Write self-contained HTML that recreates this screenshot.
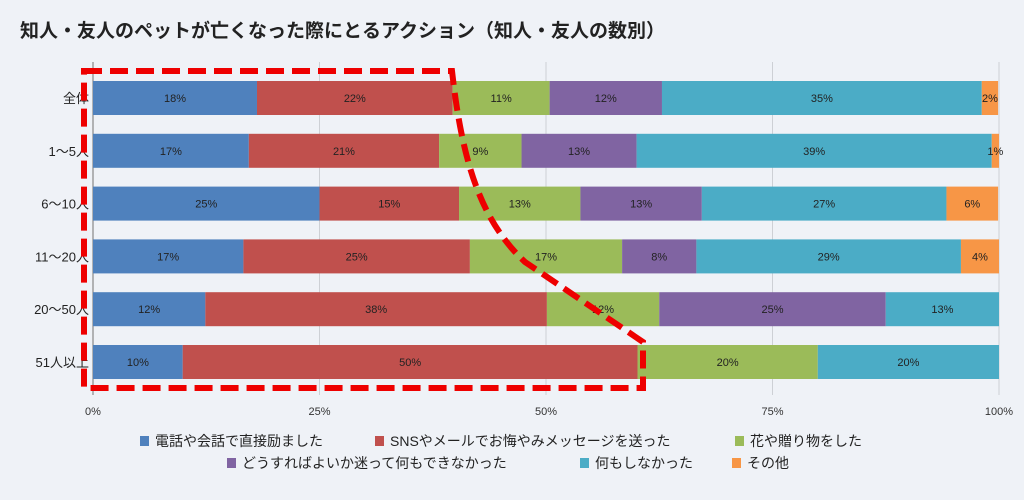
<!DOCTYPE html>
<html><head><meta charset="utf-8">
<style>
html,body{margin:0;padding:0;background:#eff2f7;}
body{width:1024px;height:495px;overflow:hidden;font-family:"Liberation Sans","Noto Sans CJK JP",sans-serif;}
svg text{font-family:"Liberation Sans","Noto Sans CJK JP",sans-serif;}
</style></head>
<body>
<svg id="chart" width="1024" height="495" viewBox="0 0 1024 495" xmlns="http://www.w3.org/2000/svg">
<rect width="1024" height="495" fill="#eff2f7"/>
<text x="20" y="37" font-size="19" font-weight="bold" fill="#222">知人・友人のペットが亡くなった際にとるアクション（知人・友人の数別）</text>
<g id="grid"></g>
<g id="bars"></g>
<g id="ylabels"></g>
<g id="xlabels"></g>
<g id="legend"></g>
<path d="M84,71 L452,71 C462,160 480,220 525,262 L643,342 L643,388 L84,388 Z" fill="none" stroke="#ee0000" stroke-width="6" stroke-dasharray="18,8"/>
</svg>
<script>
const categories = ["全体","1〜5人","6〜10人","11〜20人","20〜50人","51人以上"];
const seriesNames = ["電話や会話で直接励ました","SNSやメールでお悔やみメッセージを送った","花や贈り物をした","どうすればよいか迷って何もできなかった","何もしなかった","その他"];
const phone   = [18.1,17.2,25.0,16.6,12.4,9.9];
const sns     = [21.6,21.0,15.4,25.0,37.7,50.2];
const flowers = [10.7,9.1,13.4,16.8,12.4,19.9];
const unsure  = [12.4,12.7,13.4,8.2,25.0,0];
const nothing = [35.3,39.2,27.0,29.2,12.5,20.0];
const other   = [1.8,0.8,5.7,4.2,0,0];
const xTicks = [0,25,50,75,100];
const xTickLabels = ["0%","25%","50%","75%","100%"];
const colors = ["#4f81bd","#c0504d","#9bbb59","#8064a2","#4bacc6","#f79646"];
const series = [phone,sns,flowers,unsure,nothing,other];

const NS="http://www.w3.org/2000/svg";
const X0=93, X1=999, rowTop=81, rowPitch=52.8, barH=34;
const xScale=v=>X0+(X1-X0)*v/100;
const yScale=i=>rowTop+i*rowPitch;
function mk(tag,attrs,parent){const e=document.createElementNS(NS,tag);for(const k in attrs)e.setAttribute(k,attrs[k]);parent.appendChild(e);return e;}

const grid=document.getElementById('grid');
xTicks.forEach((t,i)=>{
  if(i>0){const l=mk('line',{x1:xScale(t),x2:xScale(t),y1:62,y2:395,stroke:'#cdd0d5','stroke-width':1},grid);
  
  }
  const tx=mk('text',{x:xScale(t),y:415,'font-size':11,'text-anchor':'middle',fill:'#333'},document.getElementById('xlabels'));
  tx.textContent=xTickLabels[i];
  
  
});
const ax=mk('line',{x1:X0,x2:X0,y1:62,y2:395,stroke:'#888','stroke-width':1.2},grid);



const bars=document.getElementById('bars');
categories.forEach((c,i)=>{
  let acc=0;
  const y=yScale(i);
  series.forEach((s,j)=>{
    const v=s[i];
    if(v<=0){return;}
    const x=xScale(acc), w=xScale(acc+v)-x;
    const r=mk('rect',{x:x,y:y,width:w,height:barH,fill:colors[j]},bars);
    
    
    const t=mk('text',{x:x+w/2,y:y+barH/2+4,'font-size':11,'text-anchor':'middle',fill:'#222'},bars);
    t.textContent=Math.round(v)+'%';
    
    
    acc+=v;
  });
  const yl=mk('text',{x:89,y:y+barH/2+5,'font-size':13,'text-anchor':'end',fill:'#222'},document.getElementById('ylabels'));
  yl.textContent=c;
  
  
});

const legend=document.getElementById('legend');
const legPos=[[140,441],[375,441],[735,441],[227,463],[580,463],[732,463]];
seriesNames.forEach((n,j)=>{
  const g=mk('g',{},legend);
  
  
  mk('rect',{x:legPos[j][0],y:legPos[j][1]-5,width:9,height:10,fill:colors[j]},g);
  const t=mk('text',{x:legPos[j][0]+15,y:legPos[j][1]+5,'font-size':14,fill:'#222'},g);
  t.textContent=n;
});
</script>
</body></html>
